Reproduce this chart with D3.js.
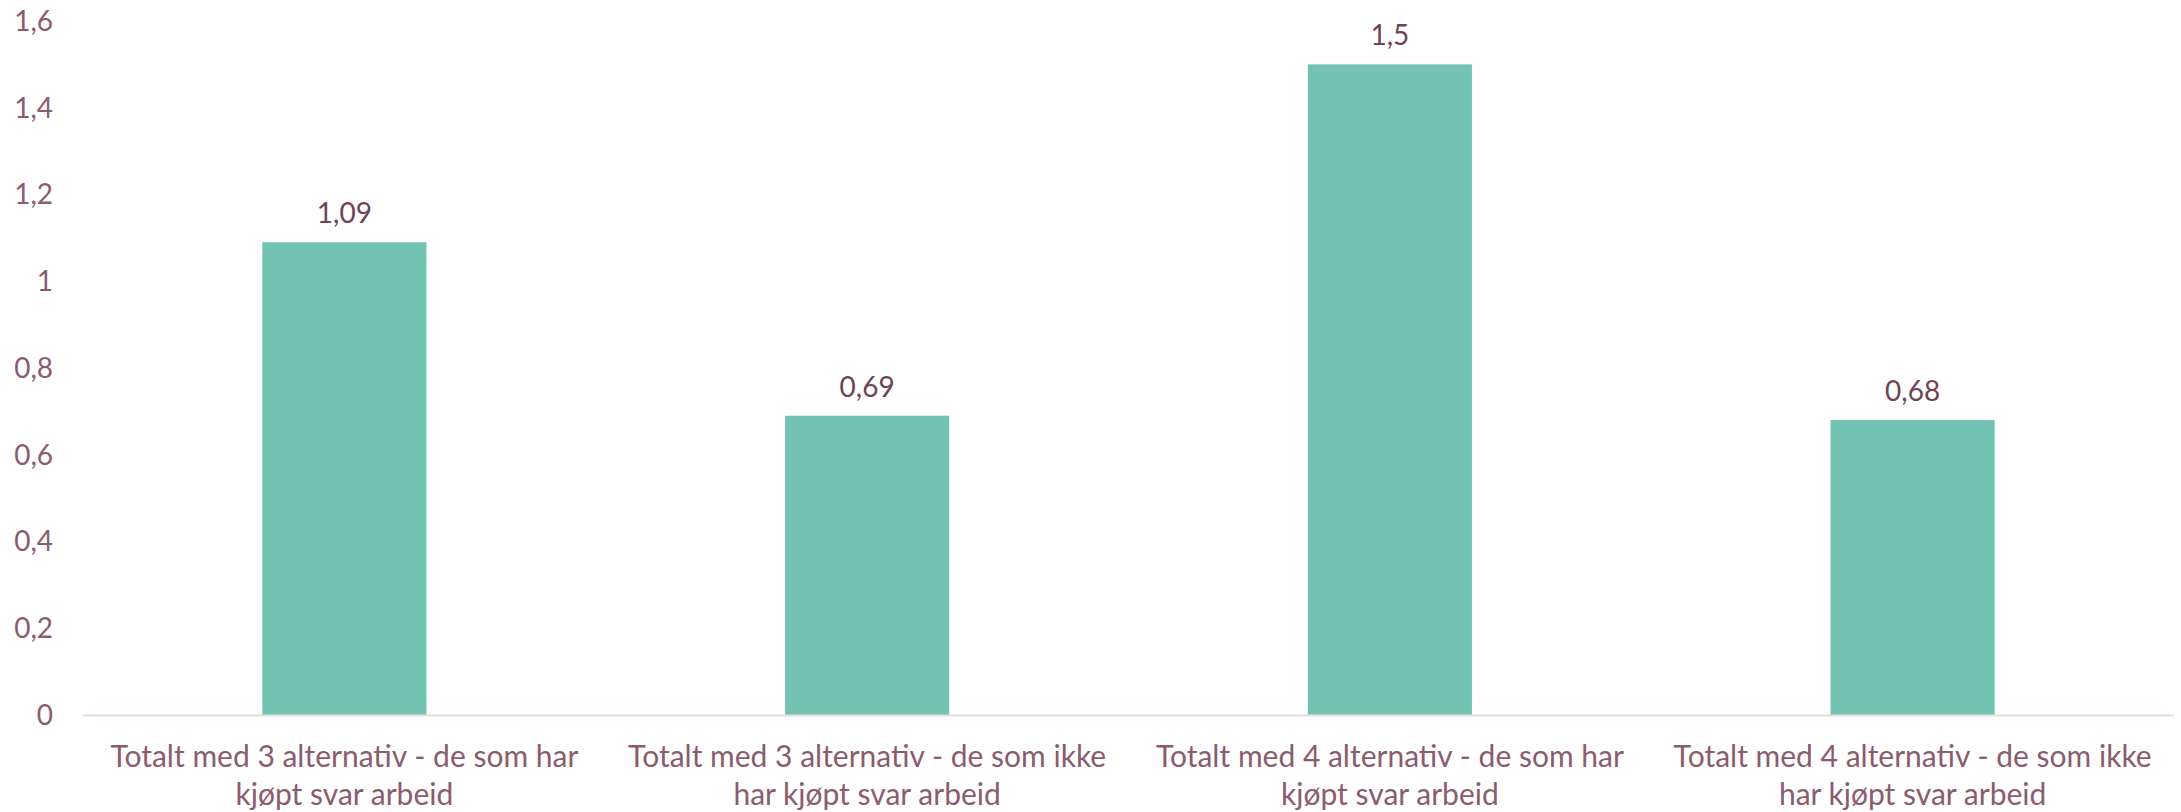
<!DOCTYPE html>
<html>
<head>
<meta charset="utf-8">
<script src="https://cdn.jsdelivr.net/npm/d3@7"></script>
<style>
  body { margin: 0; background: #fff; }
  text { font-family: Lato, "Open Sans", sans-serif; }
</style>
</head>
<body>
<div id="chart"></div>
<script>
// categories (two lines each) and values
const categories = [
  ["Totalt med 3 alternativ - de som har", "kjøpt svar arbeid"],
  ["Totalt med 3 alternativ - de som ikke", "har kjøpt svar arbeid"],
  ["Totalt med 4 alternativ - de som har", "kjøpt svar arbeid"],
  ["Totalt med 4 alternativ - de som ikke", "har kjøpt svar arbeid"]
];
const values = [1.09, 0.69, 1.5, 0.68];
const valueLabels = ["1,09", "0,69", "1,5", "0,68"];
const yTicks = [0, 0.2, 0.4, 0.6, 0.8, 1, 1.2, 1.4, 1.6];

const W = 2181, H = 812;
const margin = { top: 21, right: 7, bottom: 97, left: 83 };

const svg = d3.select("#chart").append("svg")
  .attr("width", W).attr("height", H);

const x = d3.scaleBand()
  .domain(d3.range(values.length))
  .range([margin.left, W - margin.right])
  .paddingInner(0.686)
  .paddingOuter(0.343);

const y = d3.scaleLinear().domain([0, 1.6]).range([H - margin.bottom, margin.top]);

// y tick labels (no gridlines)
svg.append("g")
  .selectAll("text")
  .data(yTicks)
  .enter().append("text")
  .attr("x", 53)
  .attr("y", d => y(d))
  .attr("dy", "0.35em")
  .attr("text-anchor", "end")
  .style("font-size", "28px")
  .style("fill", "#8a5c6e")
  .text(d => String(d).replace(".", ","));

// bars
svg.append("g")
  .selectAll("rect")
  .data(values)
  .enter().append("rect")
  .attr("x", (d, i) => x(i))
  .attr("y", d => y(d))
  .attr("width", x.bandwidth())
  .attr("height", d => y(0) - y(d))
  .attr("fill", "#72c3b4");

// baseline
svg.append("line")
  .attr("x1", margin.left).attr("x2", W - margin.right)
  .attr("y1", y(0) + 0.5).attr("y2", y(0) + 0.5)
  .attr("stroke", "#eadadf")
  .attr("stroke-width", 2);

// value labels
svg.append("g")
  .selectAll("text")
  .data(values)
  .enter().append("text")
  .attr("x", (d, i) => x(i) + x.bandwidth() / 2)
  .attr("y", d => y(d) - 19)
  .attr("text-anchor", "middle")
  .style("font-size", "28px")
  .style("fill", "#6e4356")
  .text((d, i) => valueLabels[i]);

// category labels
const cat = svg.append("g")
  .selectAll("text")
  .data(categories)
  .enter().append("text")
  .attr("x", (d, i) => x(i) + x.bandwidth() / 2)
  .attr("y", 767)
  .attr("text-anchor", "middle")
  .style("font-size", "30px")
  .style("fill", "#8a5c6e");

cat.selectAll("tspan")
  .data(d => d)
  .enter().append("tspan")
  .attr("x", function () { return d3.select(this.parentNode).attr("x"); })
  .attr("dy", (d, i) => i === 0 ? 0 : 38)
  .text(d => d);
</script>
</body>
</html>
